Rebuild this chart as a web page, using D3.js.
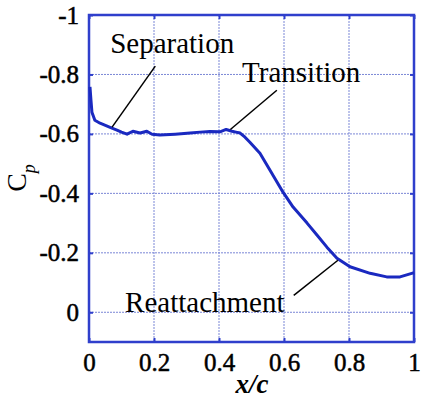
<!DOCTYPE html>
<html>
<head>
<meta charset="utf-8">
<script src="https://cdn.jsdelivr.net/npm/d3@7"></script>
<style>
  body { margin: 0; background: #fff; }
  svg text { font-family: 'Liberation Serif', 'Times New Roman', Times, 'DejaVu Serif', serif; fill: #000; }
</style>
</head>
<body>
<div id="viz"></div>
<script>
// x/c positions and pressure coefficient
var xc = [0.003, 0.006, 0.009, 0.018, 0.034, 0.065, 0.086, 0.10, 0.117, 0.135, 0.157, 0.178, 0.194,
  0.218, 0.265, 0.311, 0.342, 0.372, 0.403, 0.422, 0.44, 0.452, 0.465, 0.48, 0.495, 0.526, 0.557,
  0.597, 0.628, 0.671, 0.702, 0.732, 0.763, 0.803, 0.865, 0.916, 0.957, 0.993, 1.0];
var cp = [-0.758, -0.714, -0.673, -0.646, -0.636, -0.622, -0.613, -0.606, -0.599, -0.609, -0.603, -0.609, -0.599,
  -0.596, -0.599, -0.603, -0.606, -0.608, -0.607, -0.615, -0.609, -0.606, -0.603, -0.589, -0.572, -0.535, -0.478,
  -0.404, -0.354, -0.300, -0.259, -0.219, -0.182, -0.153, -0.131, -0.119, -0.119, -0.131, -0.133];

var xTicks = [0, 0.2, 0.4, 0.6, 0.8, 1];
var xTickLabels = ['0', '0.2', '0.4', '0.6', '0.8', '1'];
var yTicks = [-1, -0.8, -0.6, -0.4, -0.2, 0];
var yTickLabels = ['-1', '-0.8', '-0.6', '-0.4', '-0.2', '0'];

// annotation text, where it sits and the curve point its leader points to
var noteText = ['Separation', 'Transition', 'Reattachment'];
var noteX = [0.065, 0.471, 0.111];
var noteY = [-0.872, -0.774, 0.0];
var leadFromX = [0.204, 0.578, 0.630];
var leadFromY = [-0.828, -0.747, -0.057];
var leadToX = [0.071, 0.435, 0.766];
var leadToY = [-0.623, -0.615, -0.175];

var serif = "'Liberation Serif', 'Times New Roman', Times, 'DejaVu Serif', serif";

var margin = { top: 15, left: 89 },
  width = 325,
  height = 327;

var svg = d3.select('#viz').append('svg')
  .attr('width', 424)
  .attr('height', 400);

var x = d3.scaleLinear().domain([0, 1]).range([0, width]);
var y = d3.scaleLinear().domain([-1, 0.1]).range([0, height]);

var g = svg.append('g')
  .attr('transform', 'translate(' + margin.left + ',' + margin.top + ')');

// dotted grid
g.selectAll('.vgrid').data(xTicks.slice(1, -1))
  .enter().append('line')
  .attr('x1', function(d) { return x(d); })
  .attr('x2', function(d) { return x(d); })
  .attr('y1', 0).attr('y2', height)
  .attr('stroke', '#7b87d6').attr('stroke-width', 1)
  .attr('stroke-dasharray', '2,1');

g.selectAll('.hgrid').data(yTicks.slice(1))
  .enter().append('line')
  .attr('x1', 0).attr('x2', width)
  .attr('y1', function(d) { return y(d); })
  .attr('y2', function(d) { return y(d); })
  .attr('stroke', '#7b87d6').attr('stroke-width', 1)
  .attr('stroke-dasharray', '2,1');

// axes with inward ticks
var yAxis = d3.axisLeft(y).tickValues(yTicks).tickSize(-4).tickPadding(10)
  .tickFormat(function(d, i) { return yTickLabels[i]; });
var yAxisR = d3.axisRight(y).tickValues(yTicks).tickSize(-4).tickFormat('');
var xAxis = d3.axisBottom(x).tickValues(xTicks).tickSize(-4).tickPadding(11)
  .tickFormat(function(d, i) { return xTickLabels[i]; });
var xAxisT = d3.axisTop(x).tickValues(xTicks).tickSize(-4).tickFormat('');

function styleAxis(sel) {
  sel.attr('font-family', serif).attr('font-size', 25);
  sel.select('.domain').remove();
  sel.selectAll('line').attr('stroke', '#2f3fcc').attr('stroke-width', 2);
  sel.selectAll('text')
    .style('font-family', serif)
    .style('font-size', '25px')
    .attr('fill', '#000')
    .attr('stroke', '#000').attr('stroke-width', 0.5);
}

g.append('g').call(yAxis).call(styleAxis);
g.append('g').attr('transform', 'translate(' + width + ',0)').call(yAxisR).call(styleAxis);
g.append('g').attr('transform', 'translate(0,' + height + ')').call(xAxis).call(styleAxis);
g.append('g').call(xAxisT).call(styleAxis);

// frame
g.append('rect')
  .attr('width', width).attr('height', height)
  .attr('fill', 'none').attr('stroke', '#2f3fcc').attr('stroke-width', 2.5);

// Cp curve
var line = d3.line()
  .x(function(d, i) { return x(xc[i]); })
  .y(function(d, i) { return y(cp[i]); });

g.append('path')
  .datum(cp)
  .attr('d', line)
  .attr('fill', 'none')
  .attr('stroke', '#1a29c0')
  .attr('stroke-width', 3)
  .attr('stroke-linejoin', 'round');

// annotations
noteText.forEach(function(t, i) {
  g.append('line')
    .attr('x1', x(leadFromX[i])).attr('y1', y(leadFromY[i]))
    .attr('x2', x(leadToX[i])).attr('y2', y(leadToY[i]))
    .attr('stroke', '#000').attr('stroke-width', 1.5);
  g.append('text')
    .attr('x', x(noteX[i])).attr('y', y(noteY[i]))
    .style('font-family', serif)
    .style('font-size', '29px')
    .text(t);
});

// axis titles
svg.append('text')
  .attr('x', 252).attr('y', 393)
  .attr('text-anchor', 'middle')
  .style('font-family', serif)
  .style('font-size', '27px').style('font-style', 'italic').style('font-weight', 'bold')
  .text('x/c');

svg.append('text')
  .attr('transform', 'translate(26,178) rotate(-90)')
  .attr('text-anchor', 'middle')
  .style('font-family', serif)
  .style('font-size', '28px')
  .html('C<tspan dy="9" font-size="18" font-style="italic">p</tspan>');
</script>
</body>
</html>
